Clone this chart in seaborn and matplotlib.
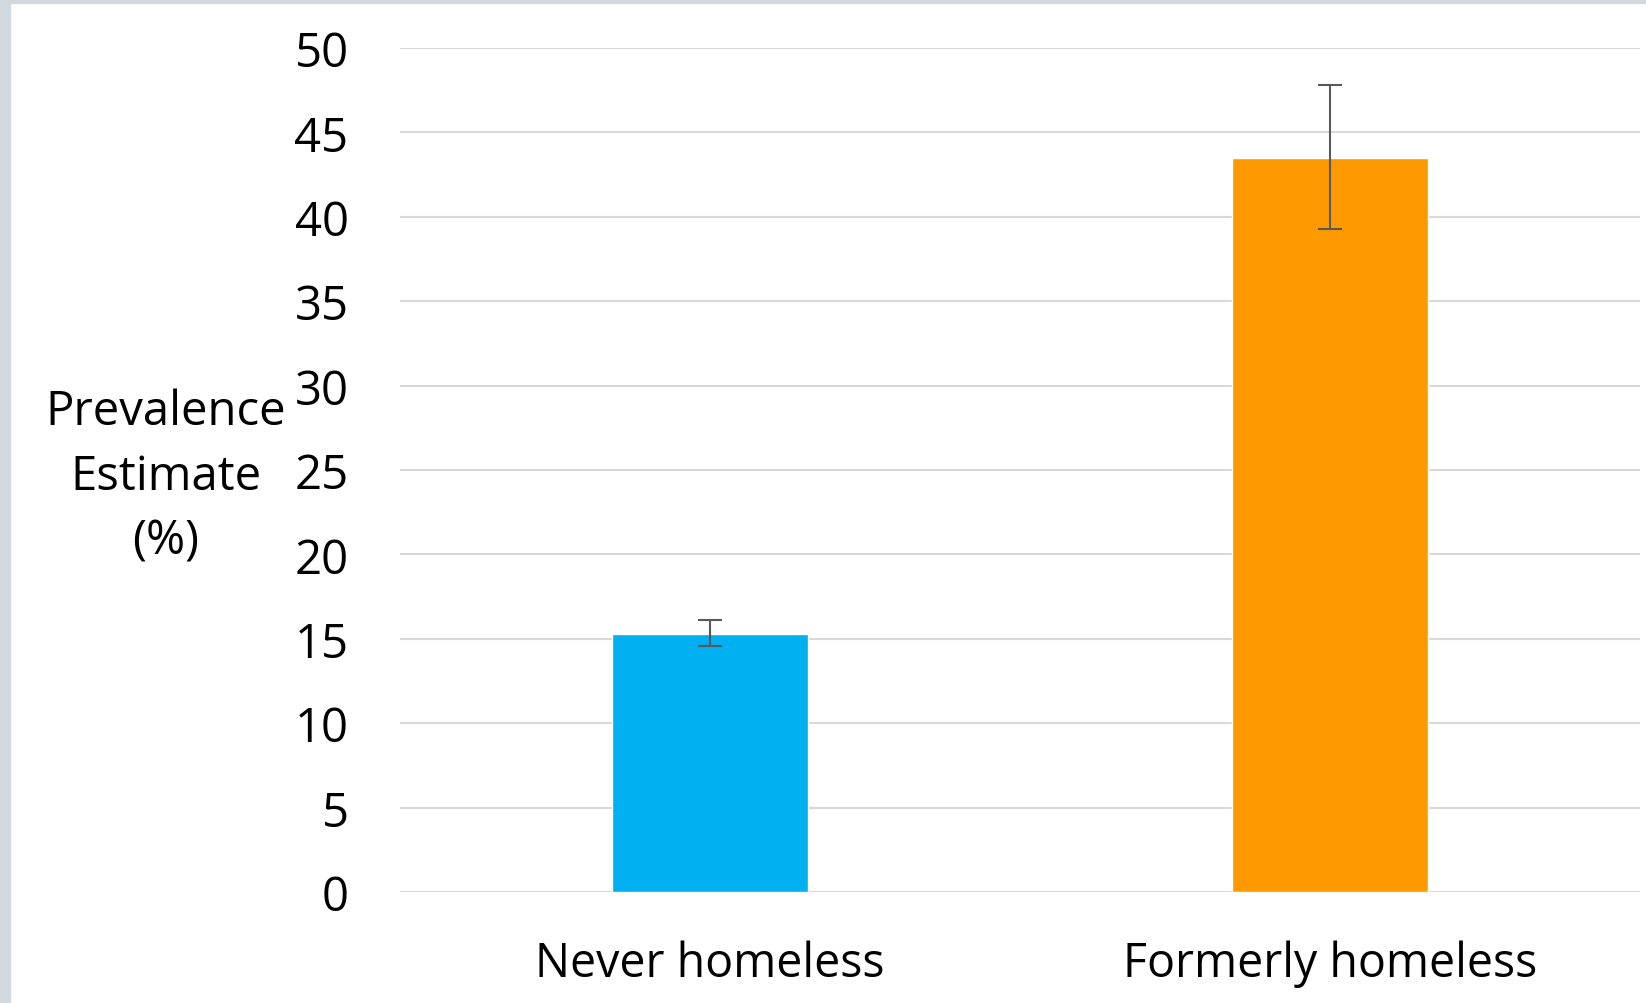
# --- Imports ---
import pandas as pd
import numpy as np
import matplotlib.pyplot as plt
import seaborn as sns
from matplotlib.patches import Rectangle

# --- Data ---
categories = ['Never homeless', 'Formerly homeless']
prevalence = [15.3, 43.5]
ci_low = [14.6, 39.3]
ci_high = [16.1, 47.8]
bar_colors = ['#00B0F0', '#FF9900']
y_ticks = [0, 5, 10, 15, 20, 25, 30, 35, 40, 45, 50]

df = pd.DataFrame({'group': categories, 'prevalence': prevalence})

# --- Style ---
sns.set_style("white")
plt.rcParams['font.family'] = ['Open Sans', 'DejaVu Sans']
plt.rcParams['text.color'] = 'black'
plt.rcParams['xtick.color'] = 'black'
plt.rcParams['ytick.color'] = 'black'
plt.rcParams['axes.labelcolor'] = 'black'

fig = plt.figure(figsize=(16.46, 10.04), dpi=100)
ax = fig.add_axes([400 / 1646, 1 - 893 / 1004, 1240 / 1646, (893 - 49) / 1004])

sns.barplot(data=df, x='group', y='prevalence', hue='group',
            palette=bar_colors, width=0.315, legend=False, ax=ax,
            saturation=1, zorder=2)

# --- Error bars ---
yerr = [np.array(prevalence) - np.array(ci_low), np.array(ci_high) - np.array(prevalence)]
ax.errorbar(x=range(len(categories)), y=prevalence, yerr=yerr, fmt='none',
            ecolor='#595959', elinewidth=1.5, capsize=8.5, capthick=1.5, zorder=3)

ax.set_ylim(0, 50)
ax.set_xlim(-0.5, 1.5)
ax.set_yticks(y_ticks)
ax.grid(axis='y', color='#d9d9d9', linewidth=1.5, zorder=0)
ax.set_axisbelow(True)
for s in ax.spines.values():
    s.set_visible(False)

ax.tick_params(axis='y', length=0, pad=37, labelsize=34)
ax.tick_params(axis='x', length=0, pad=34, labelsize=33.5)
ax.set_xlabel('')
ax.set_ylabel('Prevalence\nEstimate\n(%)', rotation=0, fontsize=34,
              ha='center', va='center', linespacing=1.48)
ax.yaxis.set_label_coords(-0.189, 0.493)

# --- Frame strips on the left and top ---
fig.patches.append(Rectangle((0, 0), 10 / 1646, 1, transform=fig.transFigure,
                             color='#d1d9de', zorder=5))
fig.patches.append(Rectangle((0, 1 - 4 / 1004), 1, 4 / 1004, transform=fig.transFigure,
                             color='#d1d9de', zorder=5))

plt.savefig('out.png', dpi=100)
plt.close()
